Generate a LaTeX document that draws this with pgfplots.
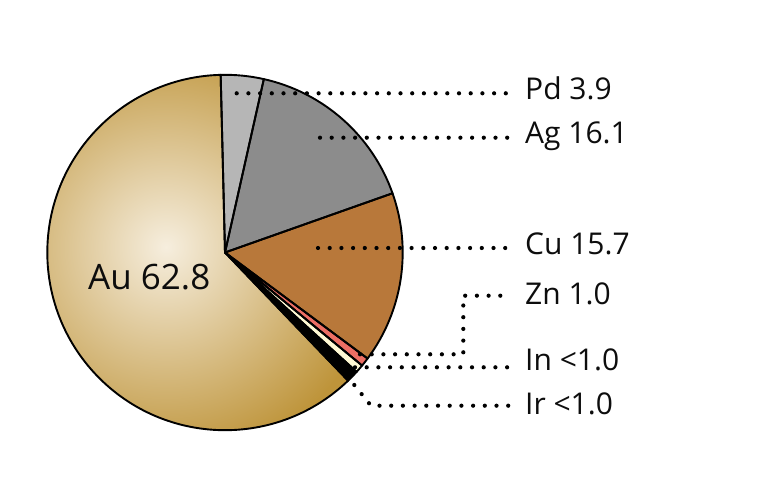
\documentclass[border=0pt]{standalone}
\usepackage{pgfplots}
\pgfplotsset{compat=1.18}
\usepackage{pgfplotstable}
\usepackage{fontspec}
\setmainfont{Open Sans}

\definecolor{piecol0}{RGB}{182,182,182}
\definecolor{piecol1}{RGB}{140,140,140}
\definecolor{piecol2}{RGB}{184,120,58}
\definecolor{piecol3}{RGB}{236,110,100}
\definecolor{piecol4}{RGB}{255,249,212}
\definecolor{piecol5}{RGB}{0,0,0}
\definecolor{auin}{RGB}{246,238,222}
\definecolor{auout}{RGB}{190,148,58}

\pgfplotstableread{
idx name value
0 Pd 3.9
1 Ag 16.1
2 Cu 15.6
3 Zn 0.8
4 In 0.75
5 Ir 1.1
6 Au 61.85
}\piedata

\gdef\pietotal{0}
\foreach \i in {0,...,6}{%
  \pgfplotstablegetelem{\i}{value}\of\piedata
  \pgfmathsetmacro\t{\pietotal+\pgfplotsretval}%
  \xdef\pietotal{\t}%
}
\gdef\piecum{0}
\foreach \i in {0,...,6}{%
  \pgfplotstablegetelem{\i}{value}\of\piedata
  \pgfmathsetmacro\aS{91.4-(\piecum/\pietotal)*360}%
  \pgfmathsetmacro\t{\piecum+\pgfplotsretval}%
  \xdef\piecum{\t}%
  \pgfmathsetmacro\aE{91.4-(\piecum/\pietotal)*360}%
  \expandafter\xdef\csname pieS\i\endcsname{\aS}%
  \expandafter\xdef\csname pieE\i\endcsname{\aE}%
}
\def\pieR{177.7pt}
\def\wedge#1{(axis cs:225,240.5) -- ++(\csname pieS#1\endcsname:\pieR) arc[start angle=\csname pieS#1\endcsname, end angle=\csname pieE#1\endcsname, radius=\pieR] -- cycle}

\tikzset{leader/.style={line width=4.2pt, line cap=round, dash pattern=on 0pt off 11.7pt},
  lab/.style={anchor=base west, inner sep=0pt, font=\fontsize{30}{36}\selectfont, text=black!95}}

\begin{document}
\begin{tikzpicture}
\begin{axis}[hide axis, x=1pt, y=1pt, xmin=0, xmax=768, ymin=0, ymax=493, clip=false]
\path (axis cs:0,0) rectangle (axis cs:768,493);
\pgfplotsextra{%
  \fill[auout] \wedge{6};
  \begin{scope}
    \clip \wedge{6};
    \shade[inner color=auin, outer color=auout] (axis cs:166,246) circle[radius=215pt];
  \end{scope}
  \foreach \i in {0,...,5}{\fill[piecol\i] \wedge{\i};}
  \foreach \i in {0,...,6}{\draw[black, line width=1.9pt, line join=round] \wedge{\i};}
  % leader lines
  \draw[leader] (axis cs:236.7,399.7) -- (axis cs:511,399.7);
  \draw[leader] (axis cs:320,355.3) -- (axis cs:511,355.3);
  \draw[leader] (axis cs:318,245) -- (axis cs:511,245);
  \draw[leader] (axis cs:360,138.7) -- (axis cs:463.3,138.7) -- (axis cs:463.3,197.3) -- (axis cs:511,197.3);
  \draw[leader] (axis cs:355,125.7) -- (axis cs:511,125.7);
  \draw[leader] (axis cs:354.3,108) -- (axis cs:371,87.3) -- (axis cs:511,87.3);
  % labels
  \node[lab] at (axis cs:525,393) {Pd 3.9};
  \node[lab] at (axis cs:525,349) {Ag 16.1};
  \node[lab] at (axis cs:525,238.5) {Cu 15.7};
  \node[lab] at (axis cs:525,188) {Zn 1.0};
  \node[lab] at (axis cs:525,123) {In <1.0};
  \node[lab] at (axis cs:525,78.5) {Ir <1.0};
  \node[lab, font=\fontsize{35}{42}\selectfont] at (axis cs:88,203) {Au 62.8};
}
\end{axis}
\end{tikzpicture}
\end{document}
